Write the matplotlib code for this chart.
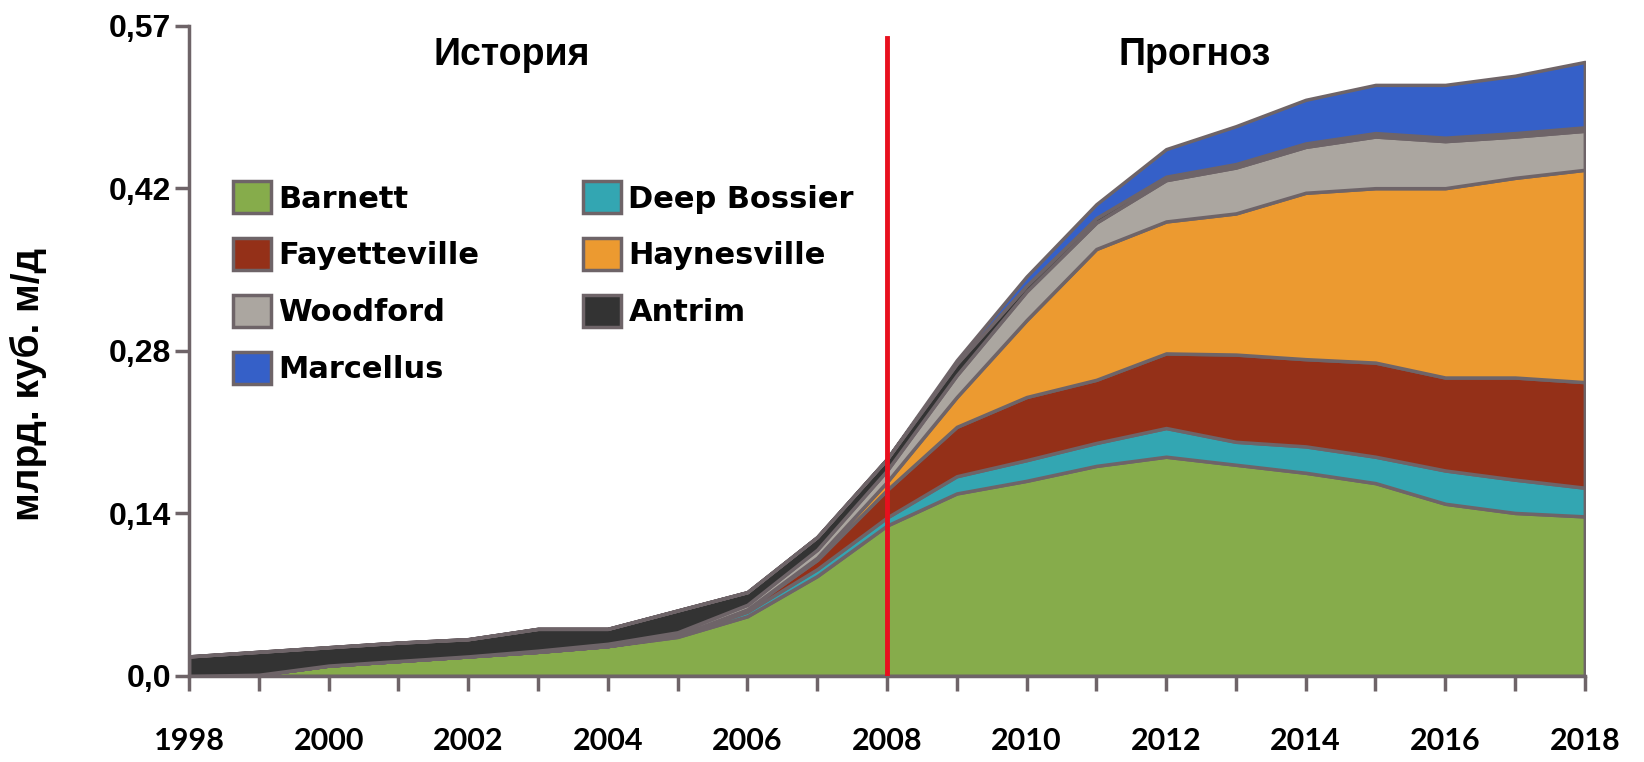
import numpy as np
import matplotlib
matplotlib.use("Agg")
import matplotlib.pyplot as plt

# years and production by play (млрд. куб. м/д), stacked bottom -> top
years = np.arange(1998, 2019)

barnett = [0.0, 0.001, 0.009, 0.013, 0.017, 0.021, 0.026, 0.034, 0.052, 0.087, 0.131,
           0.159, 0.170, 0.183, 0.191, 0.184, 0.177, 0.168, 0.150, 0.142, 0.139]
deep_bossier = [0, 0, 0, 0, 0, 0, 0, 0.001, 0.004, 0.006, 0.007,
                0.015, 0.018, 0.020, 0.025, 0.020, 0.023, 0.023, 0.029, 0.029, 0.025]
fayetteville = [0, 0, 0, 0, 0, 0, 0, 0, 0.002, 0.008, 0.024,
                0.043, 0.055, 0.055, 0.065, 0.076, 0.076, 0.082, 0.081, 0.089, 0.092]
haynesville = [0, 0, 0, 0, 0, 0, 0, 0, 0, 0.002, 0.007,
               0.026, 0.067, 0.114, 0.115, 0.123, 0.145, 0.152, 0.165, 0.174, 0.185]
woodford = [0, 0, 0, 0, 0, 0.001, 0.002, 0.003, 0.004, 0.007, 0.010,
            0.019, 0.025, 0.023, 0.036, 0.040, 0.040, 0.045, 0.041, 0.036, 0.034]
antrim = [0.017, 0.020, 0.016, 0.016, 0.015, 0.019, 0.013, 0.019, 0.011, 0.011, 0.010,
          0.010, 0.005, 0.004, 0.003, 0.003, 0.003, 0.003, 0.003, 0.003, 0.003]
marcellus = [0, 0, 0, 0, 0, 0, 0, 0, 0, 0, 0,
             0.003, 0.008, 0.012, 0.024, 0.033, 0.038, 0.042, 0.046, 0.050, 0.057]

names = ['Barnett', 'Deep Bossier', 'Fayetteville', 'Haynesville',
         'Woodford', 'Antrim', 'Marcellus']
colors = ['#86AC4B', '#33A6B2', '#943018', '#EC9A30', '#ABA6A0', '#333333', '#3560C8']

# ticks are 5 bcf/d steps converted to bcm/d
ytick_vals = [0.0, 0.1416, 0.2832, 0.4248, 0.5664]
ytick_labels = ['0,0', '0,14', '0,28', '0,42', '0,57']

edge = '#6E6468'

fig = plt.figure(figsize=(16.44, 7.62), dpi=100)
ax = fig.add_axes([0.115, 0.113, 0.849, 0.853])

polys = ax.stackplot(years, barnett, deep_bossier, fayetteville, haynesville,
                     woodford, antrim, marcellus, colors=colors, labels=names,
                     edgecolor=edge, linewidth=2.5)

# border between history and forecast
ax.plot([2008, 2008], [0, 0.556], color='#E8101E', lw=3.5, zorder=5)

ax.text(2002.63, 0.532, 'История', ha='center', va='baseline',
        family='Liberation Sans', fontweight='bold', fontsize=27)
ax.text(2012.41, 0.532, 'Прогноз', ha='center', va='baseline',
        family='Liberation Sans', fontweight='bold', fontsize=27)

ax.set_xlim(1998, 2018)
ax.set_ylim(0, 0.5664)
ax.set_xticks(years)
ax.set_xticklabels([str(y) if y % 2 == 0 else '' for y in years],
                   family='Lato', fontweight='bold', fontsize=22)
ax.set_yticks(ytick_vals)
ax.set_yticklabels(ytick_labels, family='Liberation Sans', fontweight='bold', fontsize=23)
ax.tick_params(axis='x', direction='out', length=11, width=2.5, color=edge, pad=26)
ax.tick_params(axis='y', direction='out', length=10, width=2.5, color=edge, pad=3)

for s in ['top', 'right']:
    ax.spines[s].set_visible(False)
for s in ['left', 'bottom']:
    ax.spines[s].set_color(edge)
    ax.spines[s].set_linewidth(2.5)

ax.set_ylabel('млрд. куб. м/д', family='Liberation Sans', fontweight='bold', fontsize=28)
ax.yaxis.set_label_coords(-0.102, 0.449)

# legend filled row by row: reorder for column-first filling
order = [0, 2, 4, 6, 1, 3, 5]
leg = ax.legend([polys[i] for i in order], [names[i] for i in order],
                ncol=2, loc='upper left', bbox_to_anchor=(0.0315, 0.761),
                frameon=False, borderaxespad=0, borderpad=0,
                handlelength=1.24, handleheight=1.24,
                handletextpad=0.24, labelspacing=0.8, columnspacing=3.4,
                prop={'family': 'DejaVu Sans', 'weight': 'bold', 'size': 22})

fig.savefig('out.png', dpi=100)
